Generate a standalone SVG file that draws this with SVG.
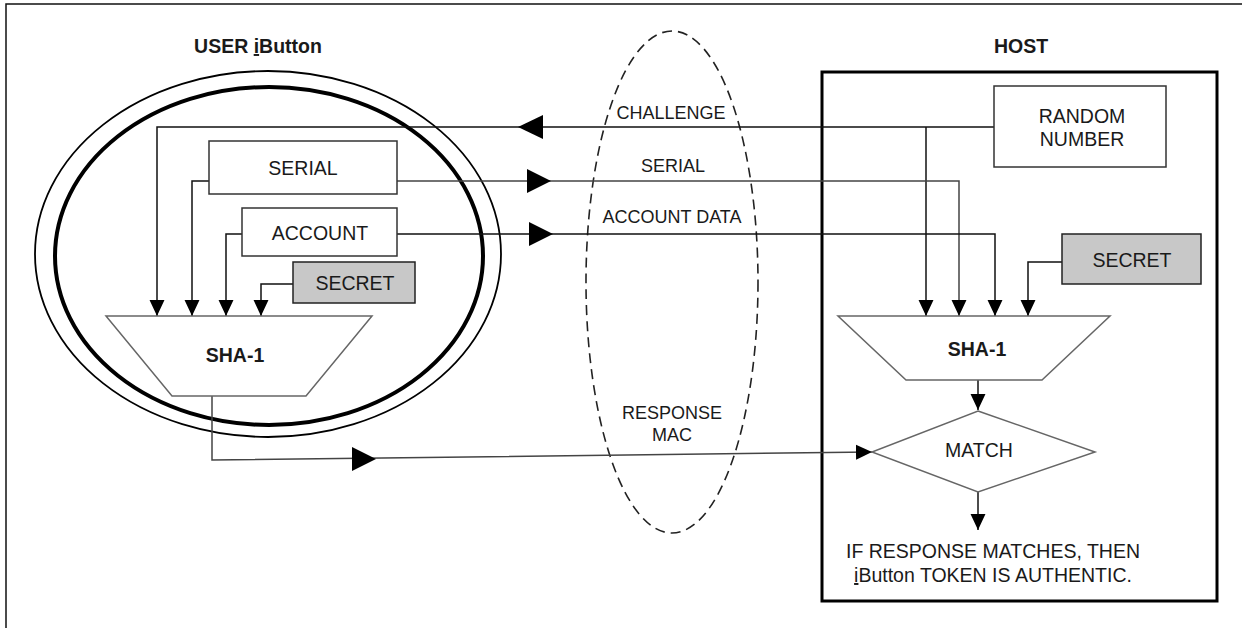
<svg xmlns="http://www.w3.org/2000/svg" width="1242" height="628" viewBox="0 0 1242 628">
<defs>
<style>
.t{font-family:"Liberation Sans",Arial,sans-serif;fill:#1a1a1a;text-anchor:middle}
.lbl{font-size:18px}
.box{font-size:19.5px}
.b{font-weight:bold;font-size:19.5px}
.ln{fill:none;stroke:#111;stroke-width:1.5}
.lg{fill:none;stroke:#444;stroke-width:1.5}
.rect{fill:#fff;stroke:#333;stroke-width:1.5}
.sec{fill:#c8c8c8;stroke:#222;stroke-width:1.5}
.shape{fill:#fff;stroke:#666;stroke-width:1.5}
.ah{fill:#000}
</style>
<marker id="a" markerUnits="userSpaceOnUse" markerWidth="16" markerHeight="16" viewBox="0 0 15 14" refX="15" refY="7" orient="auto">
<path d="M0,0 L15,7 L0,14 z" fill="#000"/>
</marker>
</defs>
<rect x="6" y="4" width="1300" height="700" fill="#fff" stroke="#111" stroke-width="1.5"/>

<g id="user">
<ellipse cx="268" cy="254" rx="233" ry="183" fill="none" stroke="#000" stroke-width="1.8"/>
<ellipse cx="269" cy="256" rx="214" ry="169" fill="none" stroke="#000" stroke-width="4"/>
<text class="t b" x="258" y="53">USER <tspan text-decoration="underline">i</tspan>Button</text>
</g>

<g id="channel">
<ellipse cx="672" cy="282" rx="86" ry="251" fill="none" stroke="#222" stroke-width="1.6" stroke-dasharray="10,6"/>
</g>

<g id="host">
<rect x="822" y="72" width="395" height="529" fill="none" stroke="#000" stroke-width="3"/>
<text class="t b" x="1021" y="53">HOST</text>
</g>

<g id="connectors">
<path class="ln" d="M994,127 H157 V316" marker-end="url(#a)"/>
<path class="ln" d="M926,127 V316" marker-end="url(#a)"/>
<path class="lg" d="M397,181 H959 V316" marker-end="url(#a)"/>
<path class="ln" d="M209,181 H192 V316" marker-end="url(#a)"/>
<path class="ln" d="M397,234 H995 V316" marker-end="url(#a)"/>
<path class="ln" d="M242,234 H226 V316" marker-end="url(#a)"/>
<path class="ln" d="M293,284 H261 V316" marker-end="url(#a)"/>
<path class="ln" d="M1062,262 H1028 V316" marker-end="url(#a)"/>
<path class="lg" d="M212,396 V460 L872,452" marker-end="url(#a)"/>
<path class="ln" d="M978,380 V410" marker-end="url(#a)"/>
<path class="ln" d="M978,492 V530" marker-end="url(#a)"/>
<polygon class="ah" points="518,127 543,115 543,139"/>
<polygon class="ah" points="551,181 527,169 527,193"/>
<polygon class="ah" points="553,234 529,222 529,246"/>
<polygon class="ah" points="376,459 352,447 352,471"/>
</g>

<g id="serial">
<rect class="rect" x="209" y="141" width="188" height="53"/>
<text class="t box" x="303" y="175">SERIAL</text>
</g>
<g id="account">
<rect class="rect" x="242" y="208" width="155" height="48"/>
<text class="t box" x="320" y="240">ACCOUNT</text>
</g>
<g id="secret-user">
<rect class="sec" x="293" y="262" width="122" height="41"/>
<text class="t box" x="355" y="290">SECRET</text>
</g>
<g id="sha-user">
<polygon class="shape" points="106,316 372,316 306,396 172,396"/>
<text class="t b" x="235" y="362">SHA-1</text>
</g>

<g id="random">
<rect class="rect" x="994" y="86" width="172" height="81"/>
<text class="t box" x="1082" y="123">RANDOM</text>
<text class="t box" x="1082" y="146">NUMBER</text>
</g>
<g id="secret-host">
<rect class="sec" x="1062" y="234" width="139" height="50"/>
<text class="t box" x="1132" y="267">SECRET</text>
</g>
<g id="sha-host">
<polygon class="shape" points="838,316 1110,316 1042,380 906,380"/>
<text class="t b" x="977" y="356">SHA-1</text>
</g>
<g id="match">
<polygon class="shape" points="978,411 1095,452 978,492 872,452"/>
<text class="t box" x="979" y="457">MATCH</text>
</g>
<g id="result">
<text class="t box" x="993" y="558">IF RESPONSE MATCHES, THEN</text>
<text class="t box" x="993" y="582"><tspan text-decoration="underline">i</tspan>Button TOKEN IS AUTHENTIC.</text>
</g>

<g id="labels">
<text class="t lbl" x="671" y="119">CHALLENGE</text>
<text class="t lbl" x="673" y="172">SERIAL</text>
<text class="t lbl" x="672" y="223">ACCOUNT DATA</text>
<text class="t lbl" x="672" y="419">RESPONSE</text>
<text class="t lbl" x="672" y="441">MAC</text>
</g>
</svg>
